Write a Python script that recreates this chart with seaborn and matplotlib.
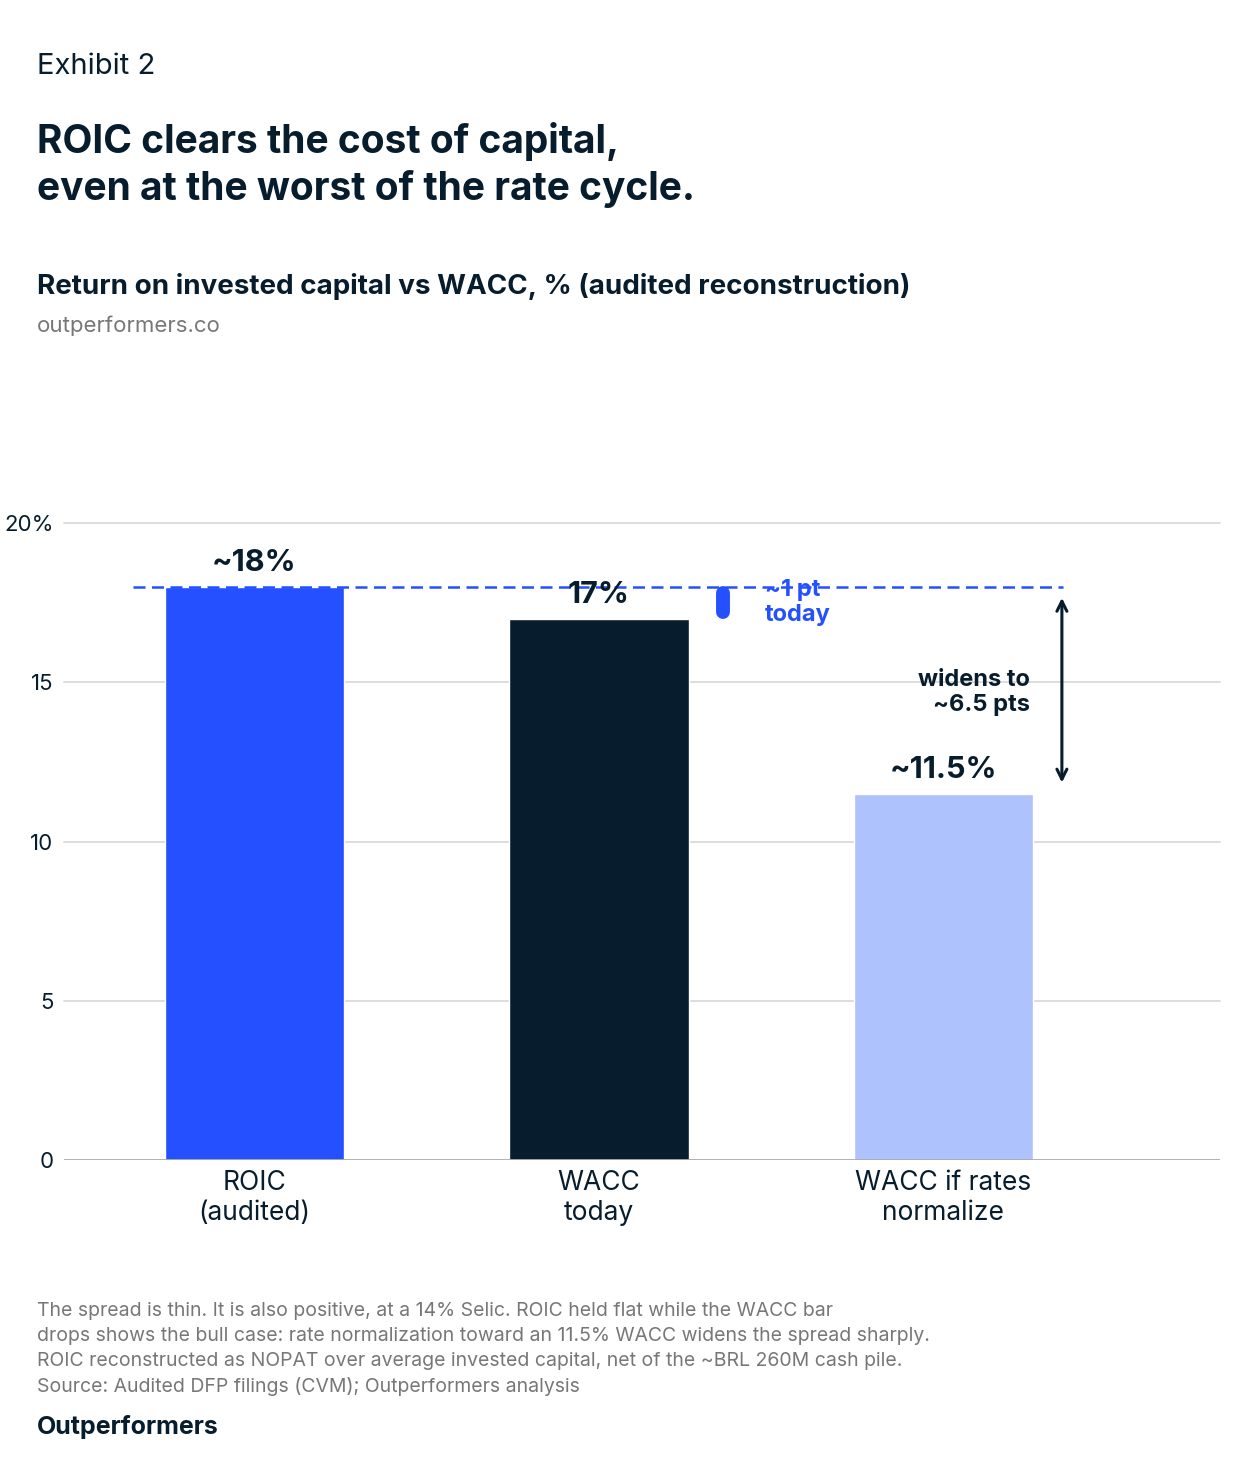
import matplotlib
matplotlib.use("Agg")
import matplotlib.pyplot as plt
import seaborn as sns
import pandas as pd

categories = ["ROIC\n(audited)", "WACC\ntoday", "WACC if rates\nnormalize"]
values = [18.0, 17.0, 11.5]
value_labels = ["~18%", "17%", "~11.5%"]
bar_colors = ["#2450FF", "#071C2C", "#AEC3FD"]
yticks = [0, 5, 10, 15, 20]
ytick_labels = ["0", "5", "10", "15", "20%"]
roic_line = 18.0
spread_today = (17.0, 18.0)
spread_norm = (11.5, 18.0)

DARK = "#071C2C"
BLUE = "#2450FF"
GRAY = "#777777"

sns.set_style("white")
plt.rcParams["font.family"] = ["Inter", "DejaVu Sans"]

fig = plt.figure(figsize=(12.4, 14.8), dpi=100)
ax = fig.add_axes([64/1240, 1-1160/1480, (1220-64)/1240, (1160-523)/1480])

df = pd.DataFrame({"cat": categories, "val": values})
sns.barplot(data=df, x="cat", y="val", hue="cat", palette=bar_colors,
            width=0.52, legend=False, ax=ax, saturation=1, zorder=3)

ax.set_ylim(0, 20)
ax.set_xlim(-0.553, 2.803)
ax.set_yticks(yticks)
ax.set_yticklabels(ytick_labels)
ax.set_xlabel("")
ax.set_ylabel("")
for s in ax.spines.values():
    s.set_visible(False)
ax.tick_params(axis="y", length=0, pad=7.5, labelsize=16, labelcolor=DARK)
ax.tick_params(axis="x", length=0, pad=7, labelsize=19, labelcolor=DARK)
for y in yticks[1:]:
    ax.axhline(y, color="#DDDDDD", lw=1.4, zorder=1, clip_on=False)
ax.axhline(0, color="#AAAAAA", lw=2, zorder=4)

# value labels
for i, (v, lab) in enumerate(zip(values, value_labels)):
    ax.annotate(lab, (i, v), xytext=(0, 17.3), textcoords="offset points",
                ha="center", va="center", fontsize=22, fontweight="bold",
                color=DARK, zorder=6)

# ROIC reference line
ax.plot([-0.353, 2.347], [roic_line, roic_line], color=BLUE, lw=1.8,
        linestyle=(0, (4.8, 2.6)), zorder=5)

# today spread marker
ax.plot([1.36, 1.36], [spread_today[1] - 0.2, spread_today[0] + 0.2],
        color=BLUE, lw=10, solid_capstyle="round", zorder=5)
ax.text(1.482, 17.5, "~1 pt\ntoday", color=BLUE, fontsize=17,
        fontweight="bold", ha="left", va="center", linespacing=1.2, zorder=6)

# normalized spread arrow
ax.annotate("", xy=(2.344, spread_norm[1] - 0.35), xytext=(2.344, spread_norm[0] + 0.35),
            arrowprops=dict(arrowstyle="<->", color=DARK, lw=2.2,
                            shrinkA=0, shrinkB=0, mutation_scale=18),
            zorder=6)
ax.text(2.251, 14.67, "widens to\n~6.5 pts", color=DARK, fontsize=17,
        fontweight="bold", ha="right", va="center", linespacing=1.2, zorder=6)

# header text
fig.text(37/1240, 1-66/1480, "Exhibit 2", fontsize=21, color=DARK, va="center", ha="left")
fig.text(37/1240, 1-165/1480, "ROIC clears the cost of capital,\neven at the worst of the rate cycle.",
         fontsize=28, fontweight="bold", color=DARK, va="center", ha="left", linespacing=1.32)
fig.text(37/1240, 1-287/1480, "Return on invested capital vs WACC, % (audited reconstruction)",
         fontsize=20, fontweight="bold", color=DARK, va="center", ha="left")
fig.text(37/1240, 1-326/1480, "outperformers.co", fontsize=16, color=GRAY, va="center", ha="left")

footnote = ("The spread is thin. It is also positive, at a 14% Selic. ROIC held flat while the WACC bar\n"
            "drops shows the bull case: rate normalization toward an 11.5% WACC widens the spread sharply.\n"
            "ROIC reconstructed as NOPAT over average invested capital, net of the ~BRL 260M cash pile.\n"
            "Source: Audited DFP filings (CVM); Outperformers analysis")
fig.text(37/1240, 1-1349/1480, footnote, fontsize=14, color=GRAY, va="center", ha="left",
         linespacing=1.47)
fig.text(37/1240, 1-1427/1480, "Outperformers", fontsize=18, fontweight="bold", color=DARK,
         va="center", ha="left")

fig.savefig("out.png", dpi=100)
